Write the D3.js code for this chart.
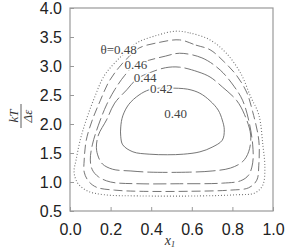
<html>
<head>
<script src="https://d3js.org/d3.v7.min.js"></script>
<style>
body { margin: 0; background: #fff; }
.tick text { font: 16px "Liberation Sans", Arial, sans-serif; fill: #222; }
.tick line { stroke: #999; }
.clabel { font: 13px "Liberation Serif", "DejaVu Serif", serif; fill: #444; }
.axlabel { font: italic 13px "Liberation Serif", "DejaVu Serif", serif; fill: #333; }
</style>
</head>
<body>
<script>
// contour lines (x1, kT/De), outermost first
var c50x = [0.52,0.59,0.69,0.77,0.84,0.89,0.93,0.95,0.96,0.95,0.91,0.82,0.64,0.34,0.17,0.09,0.04,0.02,0.03,0.05,0.08,0.12,0.17,0.25,0.33,0.43];
var c50y = [3.60,3.57,3.45,3.22,2.88,2.47,2.16,1.64,1.24,0.95,0.81,0.78,0.76,0.76,0.78,0.84,0.97,1.17,1.38,1.72,2.07,2.45,2.84,3.16,3.40,3.53];

var c48x = [0.54,0.62,0.69,0.76,0.82,0.87,0.90,0.93,0.93,0.92,0.88,0.79,0.59,0.34,0.22,0.13,0.09,0.07,0.07,0.08,0.11,0.15,0.19,0.24,0.29,0.34,0.43];
var c48y = [3.45,3.36,3.28,3.07,2.84,2.55,2.21,1.72,1.29,1.03,0.90,0.86,0.84,0.84,0.86,0.91,1.02,1.17,1.38,1.72,2.07,2.41,2.72,2.97,3.16,3.31,3.40];

var c46x = [0.54,0.65,0.74,0.81,0.85,0.88,0.90,0.90,0.88,0.84,0.75,0.54,0.34,0.20,0.14,0.11,0.10,0.11,0.14,0.18,0.22,0.27,0.32,0.39,0.47];
var c46y = [3.22,3.14,2.93,2.64,2.41,2.07,1.64,1.33,1.12,1.02,0.98,0.97,0.97,1.00,1.09,1.21,1.38,1.64,1.98,2.33,2.59,2.84,3.02,3.10,3.17];

var c44x = [0.54,0.63,0.69,0.75,0.82,0.86,0.89,0.88,0.85,0.79,0.70,0.59,0.39,0.30,0.21,0.16,0.14,0.13,0.14,0.18,0.22,0.28,0.33,0.39,0.47];
var c44y = [2.98,2.90,2.81,2.64,2.41,2.16,1.81,1.52,1.35,1.24,1.19,1.17,1.17,1.19,1.22,1.31,1.43,1.59,1.81,2.07,2.36,2.59,2.78,2.88,2.97];

var c42x = [0.45,0.49,0.58,0.64,0.69,0.73,0.75,0.76,0.75,0.70,0.64,0.56,0.48,0.39,0.31,0.26,0.25,0.25,0.26,0.29,0.34,0.39];
var c42y = [2.62,2.62,2.60,2.53,2.40,2.24,2.07,1.90,1.72,1.60,1.52,1.48,1.47,1.48,1.52,1.64,1.78,1.95,2.14,2.34,2.50,2.59];

var contourStyle = ["1,2", "9,4", "13,4", "20,4", ""];
var labelText = ["\u03b8=0.48", "0.46", "0.44", "0.42", "0.40"];
var labelX = [0.24, 0.325, 0.37, 0.45, 0.52];
var labelY = [3.28, 3.03, 2.81, 2.62, 2.19];

var xTicks = [0, 0.2, 0.4, 0.6, 0.8, 1.0];
var yTicks = [0.5, 1.0, 1.5, 2.0, 2.5, 3.0, 3.5, 4.0];

var margin = {top: 8, left: 70};
var width = 203, height = 203;

var svg = d3.select("body").append("svg")
    .attr("width", 287)
    .attr("height", 250);

var chart = svg.append("g")
    .attr("transform", "translate(" + margin.left + "," + margin.top + ")");

var x = d3.scaleLinear().domain([0, 1]).range([0, width]);
var y = d3.scaleLinear().domain([0.5, 4.0]).range([height, 0]);

// axes with inward ticks
chart.append("g")
    .attr("transform", "translate(0," + height + ")")
    .call(d3.axisBottom(x).tickValues(xTicks).tickFormat(d3.format(".1f"))
        .tickSizeInner(-4).tickSizeOuter(0).tickPadding(13))
    .call(function(g) { g.select(".domain").remove(); });

chart.append("g")
    .call(d3.axisLeft(y).tickValues(yTicks).tickFormat(d3.format(".1f"))
        .tickSizeInner(-4).tickSizeOuter(0).tickPadding(8))
    .call(function(g) { g.select(".domain").remove(); });

chart.append("rect")
    .attr("width", width)
    .attr("height", height)
    .attr("fill", "none")
    .attr("stroke", "#999")
    .attr("stroke-width", 1.2);

// contours
var contours = [[c50x, c50y], [c48x, c48y], [c46x, c46y], [c44x, c44y], [c42x, c42y]];

var line = d3.line()
    .x(function(d) { return x(d[0]); })
    .y(function(d) { return y(d[1]); })
    .curve(d3.curveCatmullRomClosed.alpha(0.5));

contours.forEach(function(c, i) {
    var pts = c[0].map(function(v, j) { return [v, c[1][j]]; });
    chart.append("path")
        .attr("d", line(pts))
        .attr("fill", "none")
        .attr("stroke", i == 0 ? "#777" : "#666")
        .attr("stroke-width", i == 0 ? 1.1 : 0.9)
        .attr("stroke-dasharray", contourStyle[i] || null);
});

// contour labels
labelText.forEach(function(t, i) {
    chart.append("text")
        .attr("class", "clabel")
        .attr("x", x(labelX[i]))
        .attr("y", y(labelY[i]))
        .attr("dy", "0.35em")
        .attr("text-anchor", "middle")
        .attr("stroke", "#fff")
        .attr("stroke-width", 3)
        .attr("paint-order", "stroke")
        .text(t);
});

// y label: kT over delta epsilon, rotated
var yl = svg.append("g")
    .attr("class", "axlabel")
    .attr("transform", "translate(21,116) rotate(-90)");
yl.append("text").attr("y", -3).attr("text-anchor", "middle").text("kT");
yl.append("line").attr("x1", -12).attr("x2", 12).attr("y1", 0).attr("y2", 0)
    .attr("stroke", "#333").attr("stroke-width", 0.8);
yl.append("text").attr("y", 11).attr("text-anchor", "middle").text("\u0394\u03b5");

// x label
svg.append("text")
    .attr("class", "axlabel")
    .attr("x", 170)
    .attr("y", 245)
    .attr("text-anchor", "middle")
    .style("font-size", "14px")
    .html("x<tspan font-size='9' dy='2'>1</tspan>");
</script>
</body>
</html>
